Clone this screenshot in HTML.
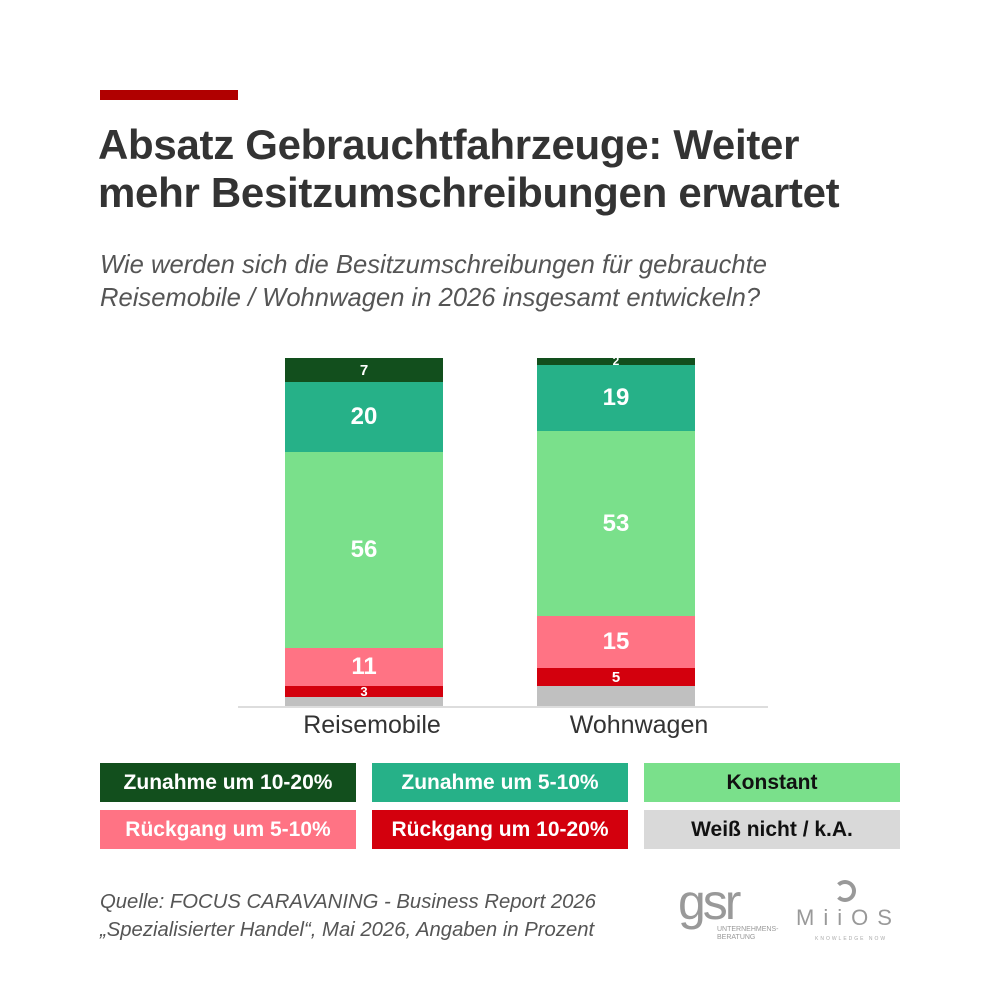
<!DOCTYPE html>
<html><head><meta charset="utf-8"><style>
body{margin:0;width:1000px;height:1000px;background:#fff;font-family:"Liberation Sans",sans-serif;position:relative;overflow:hidden}
.a{position:absolute}
.seg{position:absolute;color:#fff;font-weight:bold;display:flex;align-items:center;justify-content:center}
.lg{position:absolute;height:39px;width:256px;display:flex;align-items:center;justify-content:center;font-weight:bold;font-size:21px;color:#fff}
</style></head><body>
<div class="a" style="left:100px;top:90px;width:138px;height:10px;background:#b00000"></div>
<div class="a" style="left:98px;top:121px;font-size:42px;font-weight:bold;color:#333;line-height:48px;letter-spacing:-0.3px">Absatz Gebrauchtfahrzeuge: Weiter<br>mehr Besitzumschreibungen erwartet</div>
<div class="a" style="left:100px;top:249px;font-size:25.6px;font-style:italic;color:#555;line-height:33px">Wie werden sich die Besitzumschreibungen für gebrauchte<br>Reisemobile / Wohnwagen in 2026 insgesamt entwickeln?</div>

<div class="seg" style="left:285px;width:158px;top:358px;height:24px;background:#124f1d;font-size:15px">7</div>
<div class="seg" style="left:285px;width:158px;top:382px;height:70px;background:#26b188;font-size:24px">20</div>
<div class="seg" style="left:285px;width:158px;top:452px;height:196px;background:#7ae08b;font-size:24px">56</div>
<div class="seg" style="left:285px;width:158px;top:648px;height:38px;background:#ff7384;font-size:24px">11</div>
<div class="seg" style="left:285px;width:158px;top:686px;height:11px;background:#d3000d;font-size:13px">3</div>
<div class="seg" style="left:285px;width:158px;top:697px;height:9px;background:#c0c0c0"></div>

<div class="seg" style="left:537px;width:158px;top:358px;height:7px;background:#124f1d;font-size:12px;line-height:7px">2</div>
<div class="seg" style="left:537px;width:158px;top:365px;height:66px;background:#26b188;font-size:24px">19</div>
<div class="seg" style="left:537px;width:158px;top:431px;height:185px;background:#7ae08b;font-size:24px">53</div>
<div class="seg" style="left:537px;width:158px;top:616px;height:52px;background:#ff7384;font-size:24px">15</div>
<div class="seg" style="left:537px;width:158px;top:668px;height:18px;background:#d3000d;font-size:15px">5</div>
<div class="seg" style="left:537px;width:158px;top:686px;height:20px;background:#c0c0c0"></div>
<div class="a" style="left:238px;top:706px;width:530px;height:2px;background:#ddd"></div>
<div class="a" style="left:272px;width:200px;top:711px;font-size:25px;color:#333;text-align:center">Reisemobile</div>
<div class="a" style="left:539px;width:200px;top:711px;font-size:25px;color:#333;text-align:center">Wohnwagen</div>

<div class="lg" style="left:100px;top:763px;background:#124f1d">Zunahme um 10-20%</div>
<div class="lg" style="left:372px;top:763px;background:#26b188">Zunahme um 5-10%</div>
<div class="lg" style="left:644px;top:763px;background:#7ae08b;color:#111">Konstant</div>
<div class="lg" style="left:100px;top:810px;background:#ff7384">Rückgang um 5-10%</div>
<div class="lg" style="left:372px;top:810px;background:#d3000d">Rückgang um 10-20%</div>
<div class="lg" style="left:644px;top:810px;background:#d9d9d9;color:#111">Weiß nicht / k.A.</div>

<div class="a" style="left:100px;top:888px;font-size:20.3px;font-style:italic;color:#555;line-height:28px">Quelle: FOCUS CARAVANING - Business Report 2026<br>„Spezialisierter Handel“, Mai 2026, Angaben in Prozent</div>

<div class="a" style="left:678px;top:877px;font-size:50px;color:#999;letter-spacing:-3px;line-height:50px">gsr</div>
<div class="a" style="left:717px;top:926px;font-size:7px;color:#999;line-height:8px">UNTERNEHMENS-<br>BERATUNG</div>
<div class="a" style="left:834px;top:880px;width:14px;height:14px;border:4px solid #999;border-radius:50%;border-left-color:transparent"></div>
<div class="a" style="left:796px;top:905px;font-size:22px;color:#999;letter-spacing:9px">MiiOS</div>
<div class="a" style="left:815px;top:936px;font-size:5px;color:#aaa;letter-spacing:2px">KNOWLEDGE NOW</div>
</body></html>
